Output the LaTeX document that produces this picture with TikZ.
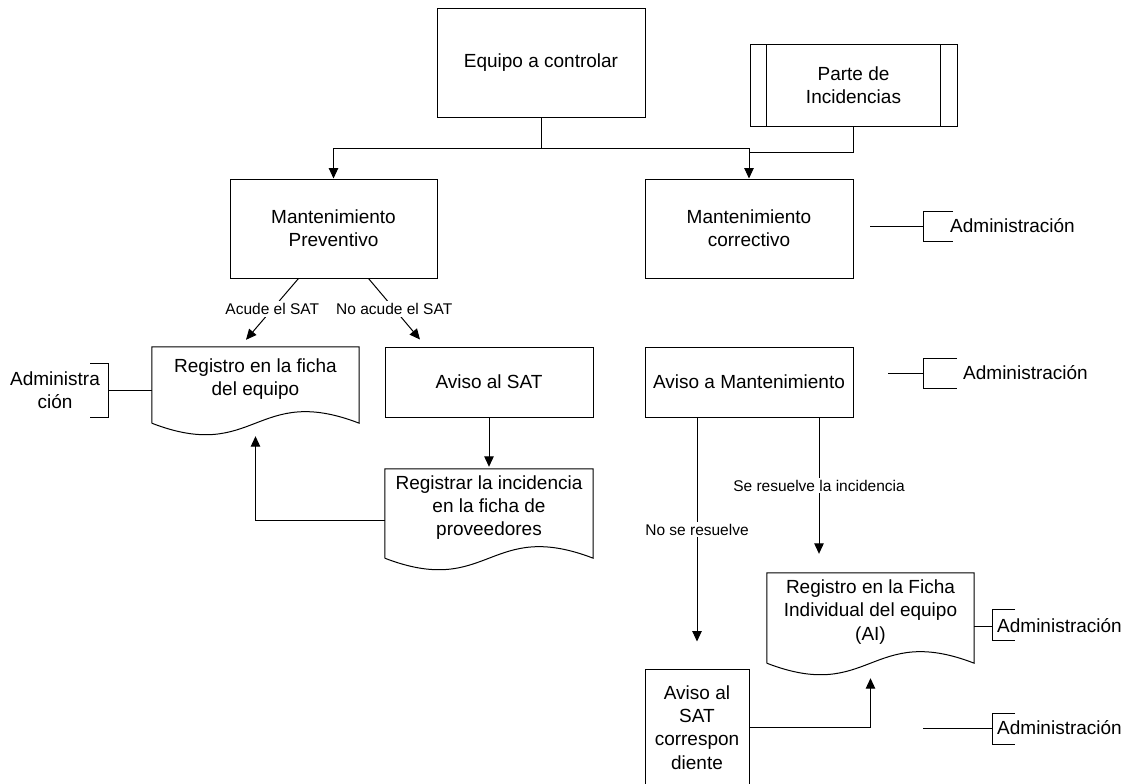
\documentclass[tikz,border=0pt]{standalone}
\usepackage{fontspec}
\setmainfont{Liberation Sans}
\usetikzlibrary{arrows.meta}
\newcommand\mainfnt{\fontsize{19}{23.3}\selectfont}
\newcommand\lblfnt{\fontsize{15.5}{18}\selectfont}
\newcommand\docoutline[1]{\draw[ln] ([yshift=-12pt]#1.south west) -- (#1.north west) -- (#1.north east) -- ([yshift=-12pt]#1.south east) .. controls ([yshift=28pt]#1.south) and ([yshift=-52pt]#1.south) .. ([yshift=-12pt]#1.south west);}
\tikzset{
  ln/.style={line width=1pt, draw=black},
  box/.style={draw=black, line width=1pt, rectangle, inner sep=0pt, align=center, font=\mainfnt},
  docnode/.style={rectangle, inner sep=0pt, align=center, font=\mainfnt},
  lbl/.style={fill=white, inner sep=2pt, font=\lblfnt},
  adm/.style={inner sep=0pt, font=\mainfnt, align=center},
  arr/.style={-{Triangle[length=10.5pt,width=9.5pt]}}
}
\begin{document}
\begin{tikzpicture}[x=1pt,y=-1pt]
\fill[white] (0,0) rectangle (1128,784);
\useasboundingbox (0,0) rectangle (1128,784);

% main nodes
\node[box, minimum width=208pt, minimum height=108pt] (equipo) at (541,63) {Equipo a controlar};
\node[box, minimum width=207pt, minimum height=81pt] (parte) at (853.5,85.5) {Parte de\\Incidencias};
\draw[ln] ([xshift=17pt]parte.north west) -- ([xshift=17pt]parte.south west);
\draw[ln] ([xshift=-17pt]parte.north east) -- ([xshift=-17pt]parte.south east);

\node[box, minimum width=207pt, minimum height=99pt] (prev) at (333.5,228.5) {Mantenimiento\\Preventivo};
\node[box, minimum width=208pt, minimum height=99pt] (corr) at (749,228.5) {Mantenimiento\\correctivo};

\node[box, minimum width=208pt, minimum height=70pt] (avisosat) at (489,382) {Aviso al SAT};
\node[box, minimum width=208pt, minimum height=70pt] (avisomant) at (749,382) {Aviso a Mantenimiento};

\node[docnode, minimum width=207pt, minimum height=64pt] (regficha) at (255.5,379) {Registro en la ficha\\del equipo};
\docoutline{regficha}
\node[docnode, minimum width=208pt, minimum height=77pt] (registrar) at (489,507.5) {Registrar la incidencia\\en la ficha de\\proveedores};
\docoutline{registrar}
\node[docnode, minimum width=207pt, minimum height=78pt] (ai) at (870.5,612) {Registro en la Ficha\\Individual del equipo\\(AI)};
\docoutline{ai}

\node[box, minimum width=104pt, minimum height=117pt] (corresp) at (697,727.5) {Aviso al\\SAT\\correspon\\diente};

% connectors
\draw[ln] (equipo.south) -- ++(0,31) coordinate (jn);
\draw[ln,arr] (jn) -| (prev.north);
\draw[ln,arr] (jn) -| (corr.north);
\draw[ln] (parte.south) |- ([yshift=26pt]corr.north);

\draw[ln,arr] ([xshift=-35pt]prev.south) -- node[lbl]{Acude el SAT} ([xshift=-9.5pt,yshift=7pt]regficha.north);
\draw[ln,arr] ([xshift=35pt]prev.south) -- node[lbl]{No acude el SAT} ([xshift=-69pt,yshift=7pt]avisosat.north);

\draw[ln,arr] (avisosat.south) -- ([yshift=2pt]registrar.north);
\draw[ln,arr] ([yshift=-12.5pt]registrar.west) -| ([yshift=-25pt]regficha.south);

\draw[ln,arr] (corresp.north |- avisomant.south) -- node[lbl]{No se resuelve} ([yshift=27pt]corresp.north);
\draw[ln,arr] ([xshift=70pt]avisomant.south) -- node[lbl]{Se resuelve la incidencia} ([xshift=-51.5pt,yshift=19pt]ai.north);
\draw[ln,arr] (corresp.east) -| ([yshift=-27pt]ai.south);

% annotations
\draw[ln] (870,226) -- (923,226);
\draw[ln] (953,211) -- (923,211) -- (923,241) -- (953,241);
\node[adm, anchor=west] (adm1) at (950,226) {Administración};

\draw[ln] (888,373) -- (923,373);
\draw[ln] (957,358) -- (923,358) -- (923,388) -- (957,388);
\node[adm, anchor=west] (adm2) at (963,373) {Administración};

\draw[ln] ([yshift=-14pt]ai.east) -- (992,626);
\draw[ln] (1015,609) -- (992,609) -- (992,640) -- (1015,640);
\node[adm, anchor=west] (adm3) at (997,626) {Administración};

\draw[ln] (923,728) -- (992,728);
\draw[ln] (1015,713) -- (992,713) -- (992,744) -- (1015,744);
\node[adm, anchor=west] (adm4) at (997,728) {Administración};

\draw[ln] (108,390) -- ([yshift=-11pt]regficha.west);
\draw[ln] (90,363) -- (108,363) -- (108,417) -- (90,417);
\node[adm] (adm5) at (55,390.5) {Administra\\ción};
\end{tikzpicture}
\end{document}
